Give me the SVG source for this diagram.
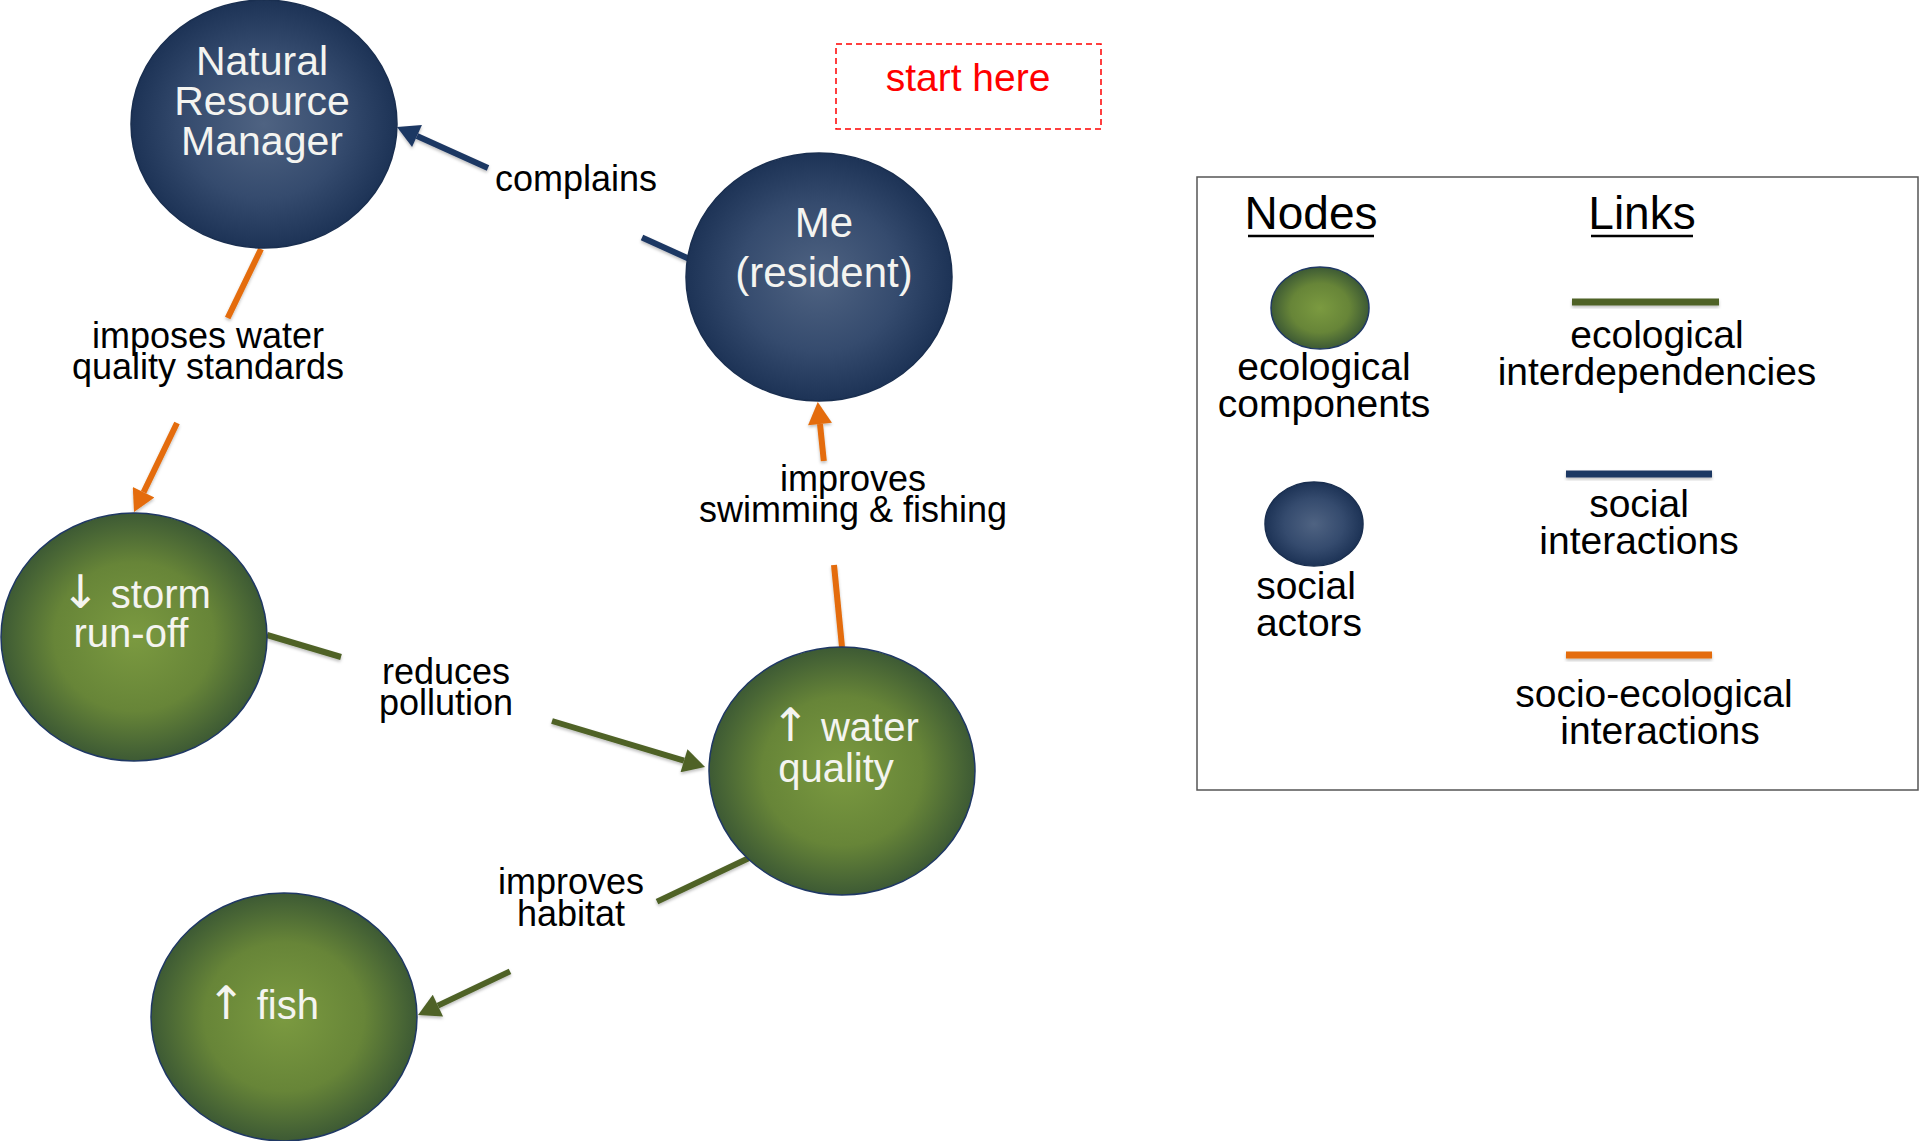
<svg xmlns="http://www.w3.org/2000/svg" width="1920" height="1141" viewBox="0 0 1920 1141">
<defs>
<radialGradient id="gBlue" cx="0.5" cy="0.5" r="0.5">
<stop offset="0" stop-color="#4f6382"/>
<stop offset="0.6" stop-color="#354b6e"/>
<stop offset="1" stop-color="#1d3356"/>
</radialGradient>
<radialGradient id="gGreen" cx="0.5" cy="0.5" r="0.5">
<stop offset="0" stop-color="#7b9a40"/>
<stop offset="0.6" stop-color="#678538"/>
<stop offset="1" stop-color="#3d5a34"/>
</radialGradient>
<marker id="aBlue" markerUnits="userSpaceOnUse" markerWidth="24" markerHeight="24" viewBox="0 0 22 24" refX="0" refY="12" orient="auto"><path d="M0,0 L22,12 L0,24 z" fill="#1f3864"/></marker>
<marker id="aOrange" markerUnits="userSpaceOnUse" markerWidth="24" markerHeight="24" viewBox="0 0 22 24" refX="0" refY="12" orient="auto"><path d="M0,0 L22,12 L0,24 z" fill="#e46c0a"/></marker>
<marker id="aGreen" markerUnits="userSpaceOnUse" markerWidth="24" markerHeight="24" viewBox="0 0 22 24" refX="0" refY="12" orient="auto"><path d="M0,0 L22,12 L0,24 z" fill="#4f6228"/></marker>
<filter id="sh" x="-10%" y="-20%" width="120%" height="160%"><feDropShadow dx="0" dy="2" stdDeviation="1.5" flood-color="#000" flood-opacity="0.25"/></filter>
</defs>
<style>
.node-blue{fill:url(#gBlue);stroke:#1a2f50;stroke-width:1.5}
.node-green{fill:url(#gGreen);stroke:#1f3864;stroke-width:1.5}
.nt{font-family:"Liberation Sans",Arial,sans-serif;fill:#f4f4f0;text-anchor:middle}
.ar{font-family:"DejaVu Sans",sans-serif;font-weight:normal}
.lbl{font-family:"Liberation Sans",Arial,sans-serif;font-size:36px;fill:#000;text-anchor:middle}
.leg{font-family:"Liberation Sans",Arial,sans-serif;font-size:39px;fill:#000;text-anchor:middle}
.hd{font-family:"Liberation Sans",Arial,sans-serif;font-size:46px;fill:#000;text-anchor:middle}
.c{fill:none;stroke-width:6}
.blue{stroke:#1f3864}
.orange{stroke:#e46c0a}
.green{stroke:#4f6228}
</style>
<rect width="1920" height="1141" fill="#ffffff"/>

<g id="connectors" filter="url(#sh)">
<path class="c blue" d="M705,266 L642,237.6 M488,168 L417,136" marker-end="url(#aBlue)"/>
<path class="c orange" d="M261,249 L227.7,318 M177,423 L143.6,492.2" marker-end="url(#aOrange)"/>
<path class="c orange" d="M842,647 L834,565 M823.8,461 L820,424" marker-end="url(#aOrange)"/>
<path class="c green" d="M267,635 L341,657 M552,721 L684,760.7" marker-end="url(#aGreen)"/>
<path class="c green" d="M749,858 L657,901.6 M510,971.4 L437.9,1005.6" marker-end="url(#aGreen)"/>
</g>

<g id="labels">
<text class="lbl" x="576" y="191">complains</text>
<text class="lbl" x="208" y="348">imposes water</text>
<text class="lbl" x="208" y="379">quality standards</text>
<text class="lbl" x="853" y="491">improves</text>
<text class="lbl" x="853" y="522">swimming &amp; fishing</text>
<text class="lbl" x="446" y="684">reduces</text>
<text class="lbl" x="446" y="715">pollution</text>
<text class="lbl" x="571" y="894">improves</text>
<text class="lbl" x="571" y="926">habitat</text>
</g>

<g id="node-nrm">
<ellipse class="node-blue" cx="264" cy="124" rx="133" ry="124"/>
<text class="nt" font-size="41" x="262" y="75">Natural</text>
<text class="nt" font-size="41" x="262" y="115">Resource</text>
<text class="nt" font-size="41" x="262" y="155">Manager</text>
</g>

<g id="node-me">
<ellipse class="node-blue" cx="819" cy="277" rx="133" ry="124"/>
<text class="nt" font-size="42" x="824" y="237">Me</text>
<text class="nt" font-size="42" x="824" y="287">(resident)</text>
</g>

<g id="node-storm">
<ellipse class="node-green" cx="134" cy="637" rx="133" ry="124"/>
<text class="nt" font-size="40" x="136" y="608"><tspan class="ar" font-size="46">↓</tspan> storm</text>
<text class="nt" font-size="40" x="131" y="647">run-off</text>
</g>

<g id="node-water">
<ellipse class="node-green" cx="842" cy="771" rx="133" ry="124"/>
<text class="nt" font-size="40" x="845" y="741"><tspan class="ar" font-size="46">↑</tspan> water</text>
<text class="nt" font-size="40" x="836" y="782">quality</text>
</g>

<g id="node-fish">
<ellipse class="node-green" cx="284" cy="1017" rx="133" ry="124"/>
<text class="nt" font-size="40" x="263" y="1019"><tspan class="ar" font-size="46">↑</tspan> fish</text>
</g>

<g id="start-here">
<rect x="836" y="44" width="265" height="85" fill="none" stroke="#ff0000" stroke-width="1.5" stroke-dasharray="6,4"/>
<text x="968" y="91" font-family="'Liberation Sans',Arial,sans-serif" font-size="39" fill="#ff0000" text-anchor="middle">start here</text>
</g>

<g id="legend">
<rect x="1197" y="177" width="721" height="613" fill="none" stroke="#555555" stroke-width="1.5"/>
<text class="hd" x="1311" y="229">Nodes</text>
<line x1="1248" y1="236" x2="1374" y2="236" stroke="#000" stroke-width="2.5"/>
<text class="hd" x="1642" y="229">Links</text>
<line x1="1591" y1="236" x2="1693" y2="236" stroke="#000" stroke-width="2.5"/>
<ellipse class="node-green" cx="1320" cy="308" rx="49" ry="41"/>
<text class="leg" x="1324" y="380">ecological</text>
<text class="leg" x="1324" y="417">components</text>
<ellipse class="node-blue" cx="1314" cy="524" rx="49" ry="42"/>
<text class="leg" x="1306" y="599">social</text>
<text class="leg" x="1309" y="636">actors</text>
<rect x="1572" y="298.5" width="147" height="7" fill="#4f6228" filter="url(#sh)"/>
<text class="leg" x="1657" y="348">ecological</text>
<text class="leg" x="1657" y="385">interdependencies</text>
<rect x="1566" y="470.5" width="146" height="7" fill="#1f3864" filter="url(#sh)"/>
<text class="leg" x="1639" y="517">social</text>
<text class="leg" x="1639" y="554">interactions</text>
<rect x="1566" y="651.5" width="146" height="7" fill="#e46c0a" filter="url(#sh)"/>
<text class="leg" x="1654" y="707">socio-ecological</text>
<text class="leg" x="1660" y="744">interactions</text>
</g>
</svg>
